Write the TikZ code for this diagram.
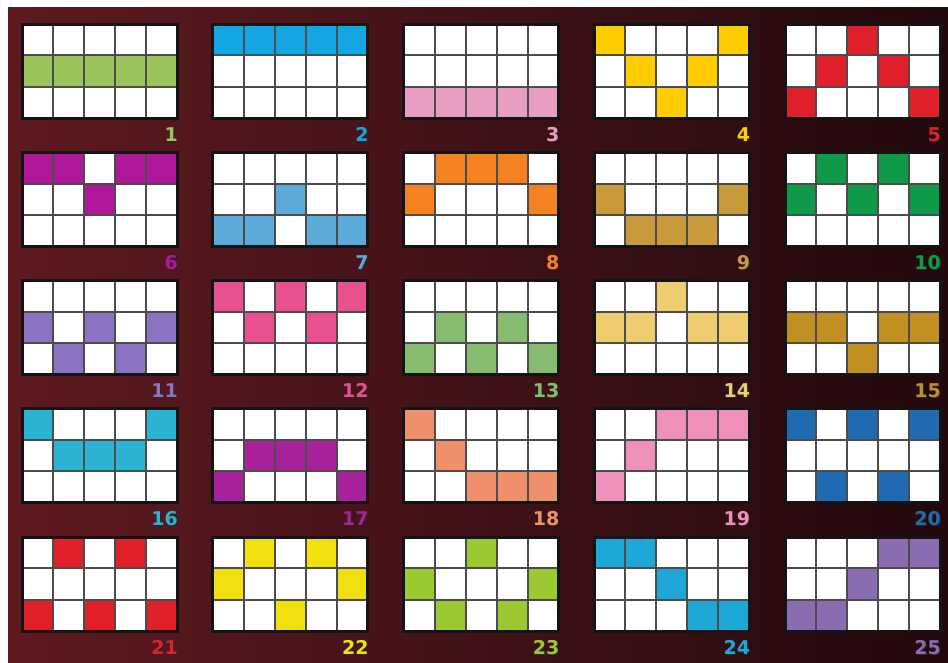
\documentclass[tikz,border=0pt]{standalone}
\usepackage{fontspec}
\setmainfont{Liberation Sans}
\newfontfamily\numfont{DejaVu Sans}
\definecolor{bgL}{HTML}{5E1A20}
\definecolor{bgM}{HTML}{3A1016}
\definecolor{bgR}{HTML}{22090D}
\definecolor{p1}{HTML}{9CC35C}
\definecolor{p2}{HTML}{14A6E4}
\definecolor{p3}{HTML}{E89EC2}
\definecolor{p4}{HTML}{FFCC00}
\definecolor{p5}{HTML}{DF1F2A}
\definecolor{p6}{HTML}{B0189C}
\definecolor{p7}{HTML}{5BAADA}
\definecolor{p8}{HTML}{F58220}
\definecolor{p9}{HTML}{C99A3C}
\definecolor{p10}{HTML}{0E9A48}
\definecolor{p11}{HTML}{8B72C2}
\definecolor{p12}{HTML}{E8508F}
\definecolor{p13}{HTML}{86BB70}
\definecolor{p14}{HTML}{F0CC70}
\definecolor{p15}{HTML}{C18F22}
\definecolor{p16}{HTML}{2AB3D3}
\definecolor{p17}{HTML}{A8209A}
\definecolor{p18}{HTML}{F0906A}
\definecolor{p19}{HTML}{EE90BA}
\definecolor{p20}{HTML}{1F6AB0}
\definecolor{p21}{HTML}{E02028}
\definecolor{p22}{HTML}{F0E010}
\definecolor{p23}{HTML}{9CC830}
\definecolor{p24}{HTML}{1EA8D8}
\definecolor{p25}{HTML}{8A6CB0}
\begin{document}
\begin{tikzpicture}[x=1pt,y=-1pt,
  cellline/.style={draw=black!70,line width=2pt},
  panelframe/.style={draw=black!92,line width=3pt},
  num/.style={font=\numfont\bfseries\fontsize{19}{19}\selectfont,anchor=base east,inner sep=0pt}]
\useasboundingbox (0,0) rectangle (948,662);
\fill[white] (0,0) rectangle (948,662);
\shade[left color=bgL,middle color=bgM,right color=bgR] (8,7) rectangle (948,662);
\foreach \n/\pa/\pb/\pc/\pd/\pe [count=\k from 0] in {
  1/1/1/1/1/1, 2/0/0/0/0/0, 3/2/2/2/2/2, 4/0/1/2/1/0, 5/2/1/0/1/2,
  6/0/0/1/0/0, 7/2/2/1/2/2, 8/1/0/0/0/1, 9/1/2/2/2/1, 10/1/0/1/0/1,
  11/1/2/1/2/1, 12/0/1/0/1/0, 13/2/1/2/1/2, 14/1/1/0/1/1, 15/1/1/2/1/1,
  16/0/1/1/1/0, 17/2/1/1/1/2, 18/0/1/2/2/2, 19/2/1/0/0/0, 20/0/2/0/2/0,
  21/2/0/2/0/2, 22/1/0/2/0/1, 23/1/2/0/2/1, 24/0/0/1/2/2, 25/2/2/1/0/0}{
  \pgfmathsetmacro\X{22+mod(\k,5)*190.75}
  \pgfmathsetmacro\Y{24+floor(\k/5)*128.25}
  \fill[white] (\X,\Y) rectangle ++(155,94);
  \foreach \r [count=\cc from 0] in {\pa,\pb,\pc,\pd,\pe}
    \fill[p\n] (\X+\cc*31,\Y+\r*31.333) rectangle ++(31,31.333);
  \foreach \q in {1,2,3,4}
    \draw[cellline] (\X+\q*31,\Y) -- ++(0,94);
  \foreach \q in {1,2}
    \draw[cellline] (\X,\Y+\q*31.333) -- ++(155,0);
  \draw[panelframe] (\X,\Y) rectangle ++(155,94);
  \node[num,text=black!85] (S\n) at (\X+157,\Y+118) {\n};
  \node[num,text=p\n] (L\n) at (\X+156,\Y+117) {\n};
}
\end{tikzpicture}
\end{document}
